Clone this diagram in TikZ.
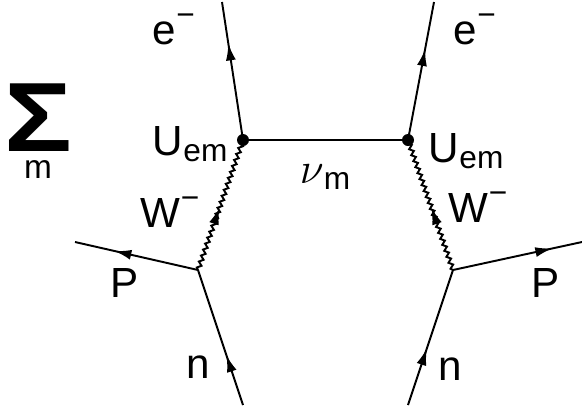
\documentclass[tikz,border=0pt]{standalone}
\usepackage{fontspec}
\setmainfont{Liberation Sans}
\usepackage{tikz}
\usetikzlibrary{arrows.meta, decorations.pathmorphing, decorations.markings}
\newcommand{\lowtxt}[1]{\raisebox{-0.3ex}{\fontsize{18}{18}\selectfont #1}}
\newcommand{\hightxt}[1]{\raisebox{0.85ex}{\fontsize{18}{18}\selectfont #1}}

\begin{document}
\begin{tikzpicture}[x=0.02cm, y=-0.02cm, line width=1.1pt,
  fermion/.style={postaction={decorate, decoration={markings,
    mark=at position #1 with {\arrow{Latex[length=0.34cm, width=0.2cm]}}}}},
  boson/.style={decorate, decoration={snake, amplitude=1.1pt, segment length=3.6pt}},
  lbl/.style={inner sep=0pt, anchor=base west, font=\fontsize{24}{28}\selectfont}]
  \useasboundingbox (0,0) rectangle (582,410);
  % vertices and free ends, in pixels of the 582x410 figure
  \coordinate (vl) at (243,140); \coordinate (vr) at (408,140);
  \coordinate (bl) at (198,270); \coordinate (br) at (453,270);
  \coordinate (el) at (222,2);   \coordinate (er) at (434,2);
  \coordinate (pl) at (75,242);  \coordinate (pr) at (582,242);
  \coordinate (nl) at (243,405); \coordinate (nr) at (408,405);

  % neutrino line and the two W's
  \draw (vl) -- (vr);
  \draw[boson] (bl) -- (vl);
  \draw[boson] (br) -- (vr);
  \path[fermion=0.48] (bl) -- (vl);
  \path[fermion=0.48] (br) -- (vr);
  % electrons, protons, neutrons
  \draw[fermion=0.7] (vl) -- (el);
  \draw[fermion=0.66] (vr) -- (er);
  \draw[fermion=0.68] (bl) -- (pl);
  \draw[fermion=0.77] (br) -- (pr);
  \draw[fermion=0.37] (nl) -- (bl);
  \draw[fermion=0.42] (nr) -- (br);
  \fill (vl) circle (0.12cm);
  \fill (vr) circle (0.12cm);

  % labels
  \node[inner sep=0pt, anchor=north] (sum) at (38,83)
    {\shortstack{{\fontsize{56}{56}\selectfont\bfseries\scalebox{1.15}[1]{Σ}}\\[2pt]{\fontsize{19}{19}\selectfont m}}};
  \node[lbl] (elabl) at (152,44) {e\hightxt{−}};
  \node[lbl] (elabr) at (453,44) {e\hightxt{−}};
  \node[lbl] (ulabl) at (152,155) {U\lowtxt{em}};
  \node[lbl] (ulabr) at (428,162) {U\lowtxt{em}};
  \node[lbl] (nulab) at (299,183) {$\nu$\lowtxt{m}};
  \node[lbl] (wlabl) at (140,227) {W\hightxt{−}};
  \node[lbl] (wlabr) at (448,222) {W\hightxt{−}};
  \node[lbl] (plabl) at (110,297) {P};
  \node[lbl] (plabr) at (531,297) {P};
  \node[lbl] (nlabl) at (186,378) {n};
  \node[lbl] (nlabr) at (438,380) {n};
\end{tikzpicture}
\end{document}
